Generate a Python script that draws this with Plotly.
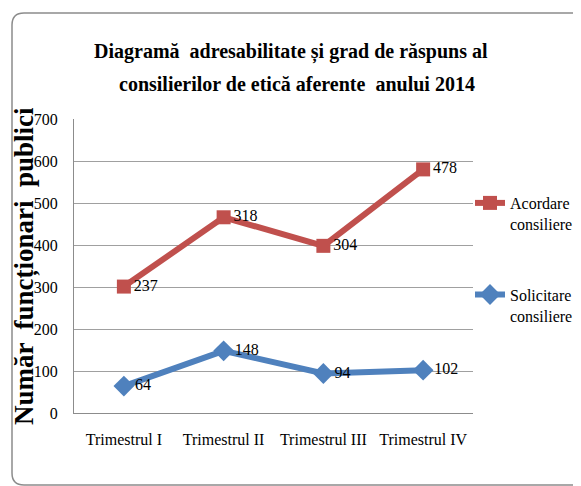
import plotly.graph_objects as go

categories = ["Trimestrul I", "Trimestrul II", "Trimestrul III", "Trimestrul IV"]
solicitare = [64, 148, 94, 102]
acordare = [237, 318, 304, 478]
y_ticks = [0, 100, 200, 300, 400, 500, 600, 700]

OFF = 8  # page body margin
W, H = 581 - OFF, 486 - OFF
L, R, T, B = 74, 473, 119, 413  # plot area in page pixels

FONT = "Liberation Serif"
RED = "#C0504D"
BLUE = "#4F81BD"


def px(x):
    return (x - L) / (R - L)


def py(y):
    return (B - y) / (B - T)


fig = go.Figure()
fig.add_trace(go.Scatter(
    x=categories, y=solicitare, name="Solicitare<br>consiliere",
    stackgroup="s", fill="none", legendgroup="sol", legendrank=2,
    mode="lines+markers+text", text=[str(v) for v in solicitare],
    textposition="middle right", textfont=dict(family=FONT, size=16, color="#000"),
    line=dict(color=BLUE, width=6),
    marker=dict(symbol="diamond", size=16, color=BLUE),
))
fig.add_trace(go.Scatter(
    x=categories, y=acordare, name="Acordare<br>consiliere",
    stackgroup="s", fill="none", legendgroup="aco", legendrank=1,
    mode="lines+markers+text", text=[str(v) for v in acordare],
    textposition="middle right", textfont=dict(family=FONT, size=16, color="#000"),
    line=dict(color=RED, width=6),
    marker=dict(symbol="square", size=14, color=RED),
))

# outer rounded border
x0, y0, x1, y1, r = 12, 13, 583, 485, 12
path = (f"M {px(x0)},{py(y0 + r)} Q {px(x0)},{py(y0)} {px(x0 + r)},{py(y0)} "
        f"L {px(x1 - r)},{py(y0)} Q {px(x1)},{py(y0)} {px(x1)},{py(y0 + r)} "
        f"L {px(x1)},{py(y1 - r)} Q {px(x1)},{py(y1)} {px(x1 - r)},{py(y1)} "
        f"L {px(x0 + r)},{py(y1)} Q {px(x0)},{py(y1)} {px(x0)},{py(y1 - r)} Z")

fig.update_layout(
    width=W, height=H,
    margin=dict(l=L - OFF, r=W - (R - OFF), t=T - OFF, b=H - (B - OFF), pad=0,
                autoexpand=False),
    paper_bgcolor="white", plot_bgcolor="white",
    font=dict(family=FONT, size=16, color="#000"),
    showlegend=True,
    legend=dict(x=px(470), y=py(186), xanchor="left", yanchor="top",
                traceorder="grouped", tracegroupgap=47, valign="top",
                font=dict(family=FONT, size=16, color="#000"),
                bgcolor="rgba(0,0,0,0)"),
    shapes=[dict(type="path", xref="paper", yref="paper", path=path,
                 line=dict(color="#8c8c8c", width=1.5), layer="below")],
    annotations=[
        dict(text="<b>Diagramă  adresabilitate și grad de răspuns al</b>",
             xref="paper", yref="paper", x=px(291), y=py(52),
             xanchor="center", yanchor="middle", showarrow=False,
             font=dict(family=FONT, size=20, color="#000")),
        dict(text="<b>consilierilor de etică aferente  anului 2014</b>",
             xref="paper", yref="paper", x=px(297), y=py(84),
             xanchor="center", yanchor="middle", showarrow=False,
             font=dict(family=FONT, size=20, color="#000")),
        dict(text="<b>Număr  funcționari  publici</b>", textangle=-90,
             xref="paper", yref="paper", x=px(24), y=py(266),
             xanchor="center", yanchor="middle", showarrow=False,
             font=dict(family=FONT, size=27, color="#000")),
    ],
)
fig.update_xaxes(type="category", range=[-0.5, 3.5], showgrid=False,
                 showline=True, linecolor="#8c8c8c", linewidth=1,
                 ticks="", ticklabelstandoff=12,
                 tickfont=dict(family=FONT, size=16, color="#000"))
fig.update_yaxes(range=[0, 700], tickvals=y_ticks, showgrid=True,
                 gridcolor="#a0a0a0", gridwidth=1, zeroline=False,
                 showline=True, linecolor="#8c8c8c", linewidth=1,
                 ticks="", ticklabelstandoff=12,
                 tickfont=dict(family=FONT, size=16, color="#000"))

fig.write_html("out.html")
